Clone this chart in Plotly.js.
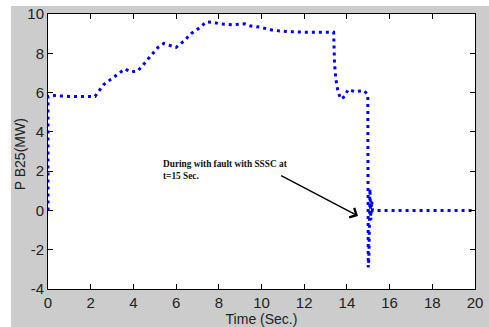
<!DOCTYPE html>
<html>
<head>
<meta charset="utf-8">
<script src="https://cdn.plot.ly/plotly-3.0.1.min.js"></script>
<style>
  html, body { margin: 0; padding: 0; background: #ffffff; }
  #chart { width: 489px; height: 327px; }
</style>
</head>
<body>
<div id="chart"></div>
<script>
// Time (Sec.)
const timeSec = [0, 0, 0.3, 1, 2.2, 2.4, 2.6, 3.1, 3.6, 3.9, 4.2, 4.45, 4.85, 5.15, 5.42, 5.78, 6.0, 6.4, 6.7, 7.1, 7.42, 7.73, 8.04, 8.66, 9.2, 9.45, 9.92, 10.54, 11.3, 12.1, 13.38, 13.42, 13.48, 13.58, 13.71, 13.9, 14.05, 14.37, 14.8, 14.98, 15.0, 15.03, 15.08, 15.12, 15.16, 15.2, 16, 18, 20];
// P_B25 (MW)
const powerMW = [0, 5.8, 5.85, 5.8, 5.8, 6.1, 6.4, 6.8, 7.2, 7.05, 7.1, 7.4, 7.9, 8.3, 8.5, 8.4, 8.3, 8.65, 9.0, 9.3, 9.6, 9.58, 9.5, 9.45, 9.5, 9.4, 9.33, 9.17, 9.1, 9.07, 9.07, 7.5, 6.7, 6.06, 5.67, 5.8, 6.15, 6.05, 6.1, 5.9, -2.9, -2.4, 1.1, -0.5, 0.5, 0, 0, 0, 0];

const xTicks = [0, 2, 4, 6, 8, 10, 12, 14, 16, 18, 20];
const yTicks = [-4, -2, 0, 2, 4, 6, 8, 10];

const xTitle = 'Time (Sec.)';
const yTitle = 'P B25(MW)';
const annotText = 'During with fault with SSSC at<br>t=15 Sec.';
const arrowHead = {t: 14.52, p: -0.28};
const arrowTail = {t: 10.85, p: 1.81};
const textPos = {t: 5.28, p: 2.05};

const tickFont = {family: '"Liberation Sans Narrow", "Arial Narrow", "Liberation Sans", Arial, sans-serif', size: 15, color: '#222222'};
const titleFont = {family: '"Liberation Sans Narrow", "Liberation Sans", Arial, sans-serif', size: 14, color: '#222222'};

const trace = {
  x: timeSec, y: powerMW, type: 'scatter', mode: 'lines',
  line: {color: '#0000ff', width: 3, dash: '3px,4px'},
  hoverinfo: 'skip'
};

const axisCommon = {
  showgrid: false, zeroline: false, showline: true, linecolor: '#000000', linewidth: 1,
  mirror: 'ticks', ticks: 'inside', ticklen: 5, tickcolor: '#000000', tickwidth: 1,
  tickfont: tickFont
};

const layout = {
  width: 489, height: 327,
  margin: {l: 48, r: 14, t: 14, b: 38, pad: 0},
  paper_bgcolor: '#cccccc', plot_bgcolor: '#ffffff',
  showlegend: false,
  xaxis: Object.assign({}, axisCommon, {
    range: [0, 20], tickmode: 'array', tickvals: xTicks, ticktext: xTicks.map(String),
    title: {text: xTitle, font: titleFont, standoff: 1}
  }),
  yaxis: Object.assign({}, axisCommon, {
    range: [-4, 10], tickmode: 'array', tickvals: yTicks, ticktext: yTicks.map(String)
  }),
  shapes: [
    {type: 'rect', xref: 'paper', yref: 'paper', x0: -0.2, x1: 1.1, y0: 1.029, y1: 1.2, fillcolor: '#ffffff', line: {width: 0}, layer: 'below'},
    {type: 'rect', xref: 'paper', yref: 'paper', x0: -0.2, x1: -0.0867, y0: -0.2, y1: 1.2, fillcolor: '#ffffff', line: {width: 0}, layer: 'below'}
  ],
  annotations: [
    {x: -0.0656, y: 0.49, xref: 'paper', yref: 'paper', text: yTitle, showarrow: false,
     xanchor: 'center', yanchor: 'middle', textangle: -90, font: titleFont},
    {x: textPos.t, y: textPos.p, xref: 'x', yref: 'y', text: annotText, showarrow: false,
     xanchor: 'left', yanchor: 'middle', align: 'left',
     font: {family: '"Liberation Serif", "DejaVu Serif", serif', size: 9.3, color: '#111111', weight: 'bold'}},
    {x: arrowHead.t, y: arrowHead.p, xref: 'x', yref: 'y', ax: arrowTail.t, ay: arrowTail.p, axref: 'x', ayref: 'y',
     text: '', showarrow: true, arrowhead: 4, arrowsize: 1.4, arrowwidth: 1.5, arrowcolor: '#000000', standoff: 0}
  ]
};

Plotly.newPlot('chart', [trace], layout, {displayModeBar: false, staticPlot: true});
</script>
</body>
</html>
